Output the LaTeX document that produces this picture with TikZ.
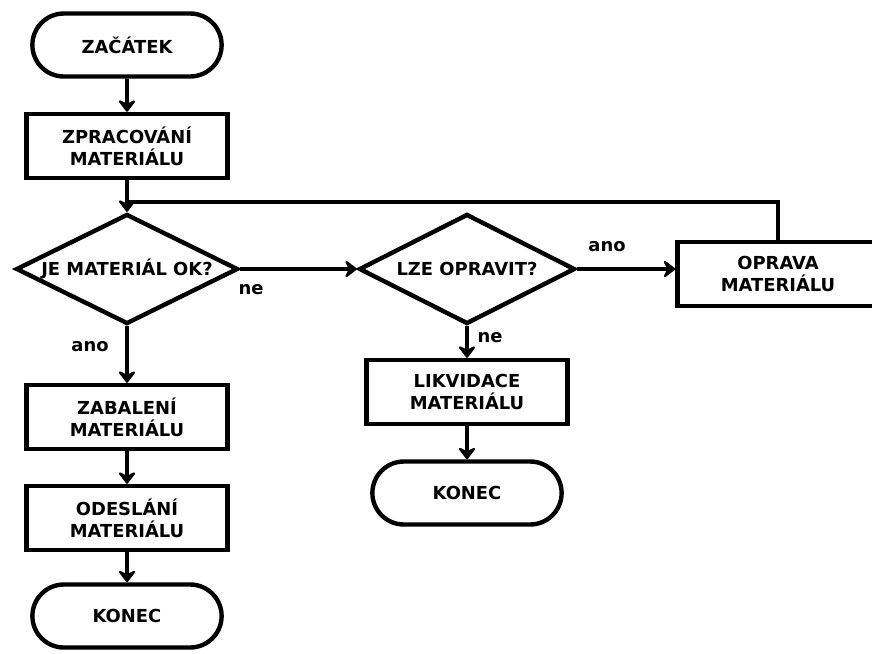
\documentclass[tikz,border=0pt]{standalone}
\usepackage{fontspec}
\setmainfont{DejaVu Sans}
\usetikzlibrary{shapes.geometric,shapes.misc,arrows.meta}
\tikzset{
  every node/.style={font=\fontsize{10.2}{12.4}\selectfont\bfseries},
  krok/.style={draw,line width=2.5pt,rectangle,align=center,minimum width=4.02cm,minimum height=1.28cm},
  mez/.style={draw,line width=2.5pt,rounded rectangle,align=center,minimum width=4.02cm,minimum height=1.26cm},
  dotaz/.style={draw,line width=2.5pt,diamond,inner sep=0pt,aspect=2},
  hrot/.tip={Stealth[length=8pt,width=12pt,inset=3pt,round]},
  tok/.style={line width=2.2pt,-hrot},
  popis/.style={inner sep=0pt}
}
\begin{document}
\begin{tikzpicture}[x=0.02cm,y=-0.02cm]
\useasboundingbox (0,0) rectangle (872,653); % rozmery obrazku
% levy sloupec
\node[mez]  (zacatek) at (127,45)  {ZAČÁTEK};
\node[krok] (zprac)   at (127,146) {ZPRACOVÁNÍ\\MATERIÁLU};
\node[dotaz,minimum width=4.44cm,minimum height=2.2cm] (jeok) at (127,269) {JE MATERIÁL OK?};
\node[krok] (zabal)   at (127,417) {ZABALENÍ\\MATERIÁLU};
\node[krok] (odesl)   at (127,518) {ODESLÁNÍ\\MATERIÁLU};
\node[mez]  (konec)   at (127,616) {KONEC};
% prostredni sloupec
\node[dotaz,minimum width=4.32cm,minimum height=2.2cm] (lze) at (467,269) {LZE OPRAVIT?};
\node[krok] (likv)    at (467,392) {LIKVIDACE\\MATERIÁLU};
\node[mez]  (konecb)  at (467,493) {KONEC};
% vpravo
\node[krok] (oprava)  at (778,274) {OPRAVA\\MATERIÁLU};
\coordinate (navrat) at (127,202);
% popisky
\node[popis] (ne1)  at (251,290) {ne};
\node[popis] (ano1) at (90,347)  {ano};
\node[popis] (ano2) at (607,247) {ano};
\node[popis] (ne2)  at (490,338) {ne};
% spojnice
\draw[tok] (zacatek) -- (zprac);
\draw[tok] (zprac) -- (jeok);
\draw[line width=2.2pt] (oprava.north) |- (navrat);
\draw[tok] (jeok.east) -- (lze.west);
\draw[tok] (lze.east) -- (lze.east -| oprava.west);
\draw[tok] (lze.south) -- (likv.north);
\draw[tok] (likv) -- (konecb);
\draw[tok] (jeok.south) -- (zabal.north);
\draw[tok] (zabal) -- (odesl);
\draw[tok] (odesl) -- (konec);
\end{tikzpicture}
\end{document}
